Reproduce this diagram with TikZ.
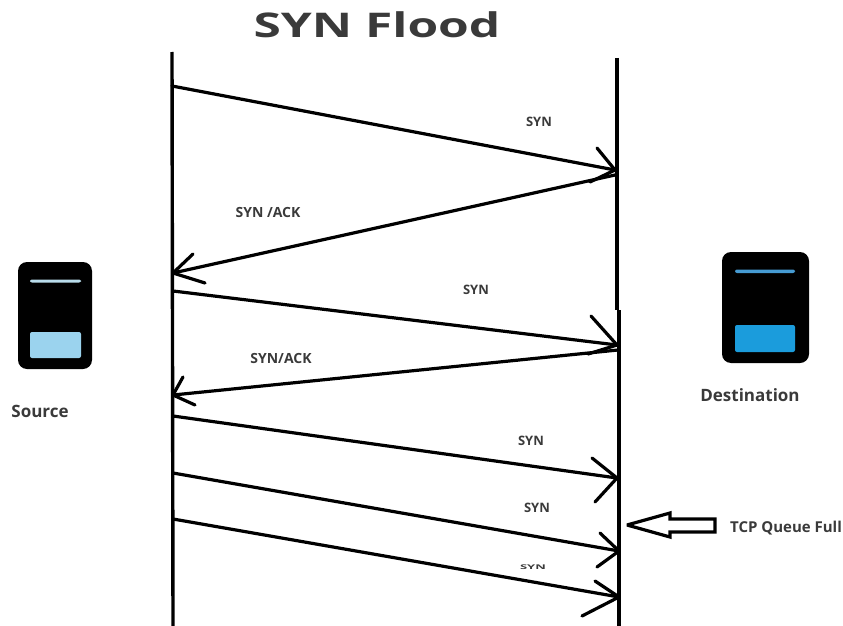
\documentclass[tikz,border=0pt]{standalone}
\usepackage{fontspec}
\setmainfont{Open Sans}
\definecolor{txt}{HTML}{3A3A3A}
\tikzset{
  life/.style={line width=3.4pt,black},
  msg/.style={line width=3.2pt,black,line cap=round,line join=round},
  lbl/.style={font=\bfseries\fontsize{13}{15}\selectfont,text=txt,inner sep=0pt},
  ack/.style={font=\bfseries\fontsize{14}{16}\selectfont,text=txt,inner sep=0pt},
  tcplbl/.style={font=\bfseries\fontsize{15}{17}\selectfont,text=txt,inner sep=0pt},
  biglbl/.style={font=\bfseries\fontsize{17}{19}\selectfont,text=txt,inner sep=0pt},
  device/.style={fill=black,draw=none,rounded corners=9pt},
  screen/.style={draw=none,rounded corners=2pt},
}
\begin{document}
\begin{tikzpicture}[x=1pt,y=-1pt]
\useasboundingbox (0,0) rectangle (843,626);
% lifelines
\coordinate (LT) at (172,52); \coordinate (LB) at (173,626);
\coordinate (RT) at (617,58); \coordinate (RM) at (617,310);
\coordinate (RN) at (619,310); \coordinate (RB) at (619,626);
\draw[life] (LT) -- (LB);
\draw[life] (RT) -- (RM);
\draw[life] (RN) -- (RB);
% message 1
\coordinate (a1) at (172,86); \coordinate (b1) at (615,170);
\coordinate (c1) at (597,148); \coordinate (d1) at (590,182);
\draw[msg] (a1) -- (b1); \draw[msg] (c1) -- (b1) -- (d1);
% message 2
\coordinate (a2) at (615,175); \coordinate (b2) at (173,273);
\coordinate (c2) at (193,254); \coordinate (d2) at (205,283);
\draw[msg] (a2) -- (b2); \draw[msg] (c2) -- (b2) -- (d2);
% message 3
\coordinate (a3) at (173,291); \coordinate (b3) at (617,345);
\coordinate (c3) at (591,316); \coordinate (d3) at (588,354);
\draw[msg] (a3) -- (b3); \draw[msg] (c3) -- (b3) -- (d3);
% message 4
\coordinate (a4) at (618,350); \coordinate (b4) at (173,395);
\coordinate (c4) at (183,377); \coordinate (d4) at (195,405);
\draw[msg] (a4) -- (b4); \draw[msg] (c4) -- (b4) -- (d4);
% message 5
\coordinate (a5) at (173,416); \coordinate (b5) at (617,478);
\coordinate (c5) at (592,458); \coordinate (d5) at (595,502);
\draw[msg] (a5) -- (b5); \draw[msg] (c5) -- (b5) -- (d5);
% message 6
\coordinate (a6) at (173,473); \coordinate (b6) at (619,551);
\coordinate (c6) at (600,533); \coordinate (d6) at (597,567);
\draw[msg] (a6) -- (b6); \draw[msg] (c6) -- (b6) -- (d6);
% message 7
\coordinate (a7) at (173,519); \coordinate (b7) at (619,597);
\coordinate (c7) at (595,581); \coordinate (d7) at (582,616);
\draw[msg] (a7) -- (b7); \draw[msg] (c7) -- (b7) -- (d7);
% block arrow
\draw[line width=3.2pt,black,fill=white,line join=miter,miter limit=2]
  (627,525) -- (670,513) -- (670,519) -- (715,519) -- (715,532) -- (670,532) -- (670,537) -- cycle;
% source device
\fill[device] (18,262) rectangle (92,369);
\fill[screen,fill={rgb,255:red,185;green,220;blue,235}] (30,279.5) rectangle (81,282.5);
\fill[screen,fill={rgb,255:red,155;green,211;blue,238}] (30,332) rectangle (81,358);
% destination device
\fill[device] (722,252) rectangle (809,363);
\fill[screen,fill={rgb,255:red,70;green,155;blue,210}] (735,269.5) rectangle (795,273);
\fill[screen,fill={rgb,255:red,27;green,156;blue,220}] (735,325) rectangle (795,352);
% texts
\node[font=\bfseries\fontsize{34}{38}\selectfont,text=txt,inner sep=0pt] (title) at (377,25) {\scalebox{1.46}[1]{SYN Flood}};
\node[lbl] (s1) at (539,122) {SYN};
\node[ack] (s2) at (268,212) {SYN /ACK};
\node[lbl] (s3) at (476,290) {SYN};
\node[ack] (s4) at (281,358) {SYN/ACK};
\node[lbl] (s5) at (531,441) {SYN};
\node[lbl] (s6) at (537,508) {SYN};
\node[lbl] (s7) at (533,567) {\scalebox{1}[0.5]{SYN}};
\node[tcplbl] (tcp) at (786,528) {TCP Queue Full};
\node[biglbl] (src) at (40,411) {Source};
\node[biglbl] (dst) at (750,395) {Destination};
\end{tikzpicture}
\end{document}
